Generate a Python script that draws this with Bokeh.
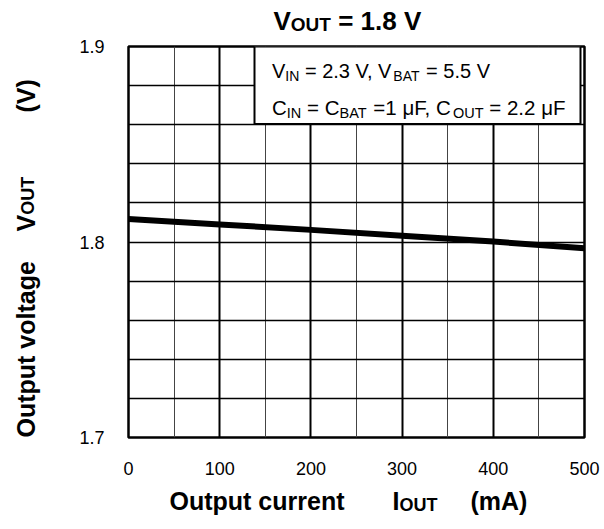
import math
from bokeh.plotting import figure
from bokeh.layouts import column, row
from bokeh.models import Label, FixedTicker, Grid, BoxAnnotation, Range1d
from bokeh.embed import file_html
from bokeh.resources import INLINE

# ---------------- data ----------------
current_ma = [0, 100, 200, 300, 400, 500]
vout_v = [1.8118, 1.8090, 1.8062, 1.8032, 1.8002, 1.7968]

x_ticks = [0, 100, 200, 300, 400, 500]
x_tick_labels = ["0", "100", "200", "300", "400", "500"]
y_ticks = [1.7, 1.8, 1.9]
y_tick_labels = ["1.7", "1.8", "1.9"]
x_grid_major = [100, 200, 300, 400]
x_grid_minor = [50, 150, 250, 350, 450]
y_grid = [1.72, 1.74, 1.76, 1.78, 1.80, 1.82, 1.84, 1.86, 1.88]

X0, X1 = 0, 500
Y0, Y1 = 1.7, 1.9

# ---------------- layout (page pixels) ----------------
W = 600
TOP_H = 35          # title strip
LEFT_W = 50         # y-title strip
BOT_H = 40          # x-title strip
FL, FT, FW, FH = 128, 46, 456, 391   # frame in page pixels
MAIN_W = W - LEFT_W
MAIN_BL = FL - LEFT_W
MAIN_BT = FT - TOP_H
MAIN_BR = MAIN_W - MAIN_BL - FW
MAIN_BB = 48
MAIN_H = MAIN_BT + FH + MAIN_BB

FONT = "Liberation Sans"
BASE_FIX = 0.32     # baseline correction (fraction of font size)

REG = {' ': 278, '(': 333, ')': 333, ',': 278, '.': 278, '=': 584,
       'A': 667, 'B': 667, 'C': 722, 'F': 611, 'I': 278, 'N': 722,
       'O': 778, 'T': 611, 'U': 722, 'V': 667, 'm': 833, 'μ': 576}
BOLD = {' ': 278, '(': 333, ')': 333, ',': 278, '.': 278, '=': 584,
        'A': 722, 'B': 722, 'C': 722, 'F': 611, 'I': 278, 'N': 722,
        'O': 778, 'T': 611, 'U': 722, 'V': 667, 'm': 889, 'μ': 611}
for d in "0123456789":
    REG[d] = 556
    BOLD[d] = 556


def twidth(s, size, bold):
    tab = BOLD if bold else REG
    return sum(tab.get(c, 556) for c in s) / 1000.0 * size


def dx(px):
    return X0 + (px - FL) / FW * (X1 - X0)


def dy(py):
    return Y1 - (py - FT) / FH * (Y1 - Y0)


def blank(w, h):
    f = figure(width=w, height=h, output_backend="svg", toolbar_location=None,
               x_axis_type=None, y_axis_type=None,
               x_range=Range1d(0, 1), y_range=Range1d(0, 1),
               min_border=0, min_border_left=0, min_border_right=0,
               min_border_top=0, min_border_bottom=0,
               background_fill_color="white", border_fill_color="white")
    f.outline_line_color = None
    return f


def put(fig, ox, oy, text, px, py, size, bold=False, angle=0.0):
    if not angle:
        py -= BASE_FIX * size
    fig.add_layout(Label(x=px - ox, y=py - oy, x_units="canvas", y_units="canvas",
                         text=text, text_font=FONT,
                         text_font_size=f"{size}px",
                         text_font_style="bold" if bold else "normal",
                         text_color="black", text_align="left",
                         text_baseline="alphabetic", angle=angle))


def chain(fig, ox, oy, pieces, px, py, bold=False):
    x = px
    for text, size, shift in pieces:
        core = text.lstrip(" ")
        x += twidth(text[:len(text) - len(core)], size, bold)
        body = core.rstrip(" ")
        put(fig, ox, oy, body, x, py + shift, size, bold)
        x += twidth(core, size, bold)


# ---------------- main plot ----------------
p = figure(width=MAIN_W, height=MAIN_H, output_backend="svg", toolbar_location=None,
           x_range=Range1d(X0, X1), y_range=Range1d(Y0, Y1),
           min_border_left=MAIN_BL, min_border_right=MAIN_BR,
           min_border_top=MAIN_BT, min_border_bottom=MAIN_BB,
           background_fill_color="white", border_fill_color="white")
p.outline_line_color = "black"
p.outline_line_width = 2.5

for ax in (p.xaxis[0], p.yaxis[0]):
    ax.axis_line_color = None
    ax.major_tick_line_color = None
    ax.minor_tick_line_color = None
    ax.major_label_text_font = FONT
    ax.major_label_text_font_size = "18px"
    ax.major_label_text_color = "black"

p.xaxis.ticker = FixedTicker(ticks=x_ticks)
p.xaxis.major_label_overrides = dict(zip(x_ticks, x_tick_labels))
p.xaxis.major_label_standoff = 18
p.yaxis.ticker = FixedTicker(ticks=y_ticks)
p.yaxis.major_label_overrides = dict(zip(y_ticks, y_tick_labels))
p.yaxis.major_label_standoff = 18

p.xgrid.ticker = FixedTicker(ticks=x_grid_minor)
p.xgrid.grid_line_color = "#444444"
p.xgrid.grid_line_width = 1
p.ygrid.ticker = FixedTicker(ticks=y_grid)
p.ygrid.grid_line_color = "black"
p.ygrid.grid_line_width = 1.3
p.add_layout(Grid(dimension=0, ticker=FixedTicker(ticks=x_grid_major),
                  grid_line_color="black", grid_line_width=2))

p.line(current_ma, vout_v, line_width=6, line_color="black")

p.add_layout(BoxAnnotation(left=dx(254), right=dx(580), bottom=dy(123.5), top=Y1,
                           fill_color="white", fill_alpha=1.0,
                           line_color="black", line_width=2, line_alpha=1.0))

chain(p, LEFT_W, TOP_H,
      [("V", 20, 0), ("IN", 14, 3), (" = 2.3 V, V", 20, 0), ("BAT", 14, 3),
       (" = 5.5 V", 20, 0)], 271.5, 76.5)
chain(p, LEFT_W, TOP_H,
      [("C", 20.5, 0), ("IN", 14.5, 3), (" = C", 20.5, 0), ("BAT", 14.5, 3),
       (" =1 μF, C", 20.5, 0), ("OUT", 14.5, 3), (" = 2.2 μF", 20.5, 0)], 271.5, 114)

# ---------------- title strip ----------------
t = blank(W, TOP_H)
chain(t, 0, 0, [("V", 26, 0), ("OUT", 19, 1.5), (" = 1.8 V", 26, 0)], 273, 28.5, bold=True)

# ---------------- y-title strip ----------------
yl = blank(LEFT_W, MAIN_H)
A = math.pi / 2
YX = 25
put(yl, 0, TOP_H, "Output voltage", YX, 437, 25, True, A)
put(yl, 0, TOP_H, "V", YX, 231, 25, True, A)
put(yl, 0, TOP_H, "OUT", YX + 2, 231 - twidth("V", 25, True), 18, True, A)
put(yl, 0, TOP_H, "(V)", YX, 112, 25, True, A)

# ---------------- x-title strip ----------------
xl = blank(W, BOT_H)
OY = TOP_H + MAIN_H
put(xl, 0, OY, "Output current", 169, 508, 25, True)
chain(xl, 0, OY, [("I", 25, 0), ("OUT", 18, 2)], 392, 508, bold=True)
put(xl, 0, OY, "(mA)", 470, 508, 25, True)

layout = column(t, row(yl, p), xl)
open("out.html", "w").write(file_html(layout, INLINE))
